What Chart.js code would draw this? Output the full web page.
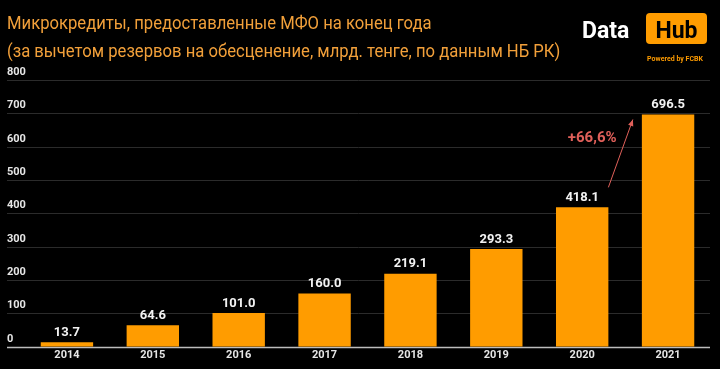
<!DOCTYPE html>
<html>
<head>
<meta charset="utf-8">
<script src="https://cdn.jsdelivr.net/npm/chart.js@4/dist/chart.umd.min.js"></script>
<style>
  html, body { margin: 0; padding: 0; background: #000; }
  #wrap { width: 720px; height: 369px; position: relative; }
</style>
</head>
<body>
<div id="wrap"><canvas id="mfoChart"></canvas></div>
<script>
const years = ['2014', '2015', '2016', '2017', '2018', '2019', '2020', '2021'];
const loans = [13.7, 64.6, 101.0, 160.0, 219.1, 293.3, 418.1, 696.5];
const yTicks = [0, 100, 200, 300, 400, 500, 600, 700, 800];
const titleLines = [
    'Микрокредиты, предоставленные МФО на конец года',
    '(за вычетом резервов на обесценение, млрд. тенге, по данным НБ РК)'
];
const growthLabel = '+66,6%';

const orange = '#ff9c00';
const titleColor = '#f2a03a';
const font = 'Roboto, "Noto Sans", sans-serif';

// title, logo, grid, labels and the arrow are drawn by hand on the canvas
const decorPlugin = {
    id: 'decor',
    beforeDatasetsDraw(chart) {
        const ctx = chart.ctx;
        const y = chart.scales.y;
        ctx.save();
        ctx.font = 'bold 11px ' + font;
        ctx.textAlign = 'left';
        ctx.textBaseline = 'bottom';
        yTicks.forEach(v => {
            const py = Math.round(y.getPixelForValue(v)) + 0.5;
            ctx.strokeStyle = v === 0 ? '#bdbdbd' : '#2b2b2b';
            ctx.lineWidth = v === 0 ? 1.5 : 1;
            ctx.beginPath();
            ctx.moveTo(7, py);
            ctx.lineTo(710, py);
            ctx.stroke();
            ctx.fillStyle = '#e6e6e6';
            ctx.fillText(String(v), 7, py - 3);
        });
        ctx.restore();
    },
    afterDatasetsDraw(chart) {
        const ctx = chart.ctx;
        const meta = chart.getDatasetMeta(0);
        const y = chart.scales.y;
        ctx.save();

        // value labels
        ctx.font = 'bold 13px ' + font;
        ctx.fillStyle = '#f2f2f2';
        ctx.textAlign = 'center';
        ctx.textBaseline = 'bottom';
        meta.data.forEach((bar, i) => {
            ctx.fillText(loans[i].toFixed(1), bar.x, bar.y - 3);
        });

        // growth arrow between the last two bars
        const a = meta.data[6], b = meta.data[7];
        const x0 = a.x + a.width / 2, y0 = a.y - 20;
        const x1 = b.x - b.width / 2 - 9, y1 = b.y + 5;
        ctx.strokeStyle = '#e0605a';
        ctx.fillStyle = '#e0605a';
        ctx.lineWidth = 1;
        ctx.beginPath();
        ctx.moveTo(x0, y0);
        ctx.lineTo(x1, y1);
        ctx.stroke();
        const ang = Math.atan2(y1 - y0, x1 - x0);
        ctx.beginPath();
        ctx.moveTo(x1, y1);
        ctx.lineTo(x1 - 7 * Math.cos(ang - 0.4), y1 - 7 * Math.sin(ang - 0.4));
        ctx.lineTo(x1 - 7 * Math.cos(ang + 0.4), y1 - 7 * Math.sin(ang + 0.4));
        ctx.closePath();
        ctx.fill();
        ctx.font = 'bold 15px ' + font;
        ctx.textBaseline = 'middle';
        ctx.fillText(growthLabel, a.x + 10, y.getPixelForValue(625));

        // title (slightly condensed like the original)
        ctx.save();
        ctx.translate(7, 0);
        ctx.scale(0.925, 1);
        ctx.font = '18px ' + font;
        ctx.fillStyle = titleColor;
        ctx.textAlign = 'left';
        ctx.textBaseline = 'middle';
        ctx.fillText(titleLines[0], 0, 24);
        ctx.fillText(titleLines[1], 0, 52);
        ctx.restore();

        // logo
        ctx.font = 'bold 23px ' + font;
        ctx.fillStyle = '#ffffff';
        ctx.textAlign = 'left';
        ctx.textBaseline = 'alphabetic';
        ctx.fillText('Data', 582, 38);
        ctx.fillStyle = orange;
        ctx.beginPath();
        ctx.roundRect(646, 13, 61, 31, 4);
        ctx.fill();
        ctx.fillStyle = '#000000';
        ctx.textAlign = 'center';
        ctx.fillText('Hub', 676.5, 38);
        ctx.font = 'bold 7px ' + font;
        ctx.fillStyle = orange;
        ctx.fillText('Powered by FCBK', 675, 61);
        ctx.restore();
    }
};

const ctx = document.getElementById('mfoChart').getContext('2d');
const mfoChart = new Chart(ctx, {
    type: 'bar',
    data: {
        labels: years,
        datasets: [{
            data: loans,
            backgroundColor: orange,
            borderWidth: 0,
            categoryPercentage: 1,
            barPercentage: 0.61
        }]
    },
    options: {
        responsive: true,
        maintainAspectRatio: false,
        animation: false,
        events: [],
        layout: { padding: { left: 24, right: 9, top: 80, bottom: 5 } },
        scales: {
            x: {
                grid: { display: false, drawTicks: false },
                border: { display: false },
                ticks: {
                    color: '#e6e6e6',
                    padding: 2,
                    font: { family: font, size: 11, weight: 'bold' }
                }
            },
            y: {
                display: false,
                min: 0,
                max: 800
            }
        },
        plugins: {
            legend: { display: false },
            tooltip: { enabled: false }
        }
    },
    plugins: [decorPlugin]
});
</script>
</body>
</html>
